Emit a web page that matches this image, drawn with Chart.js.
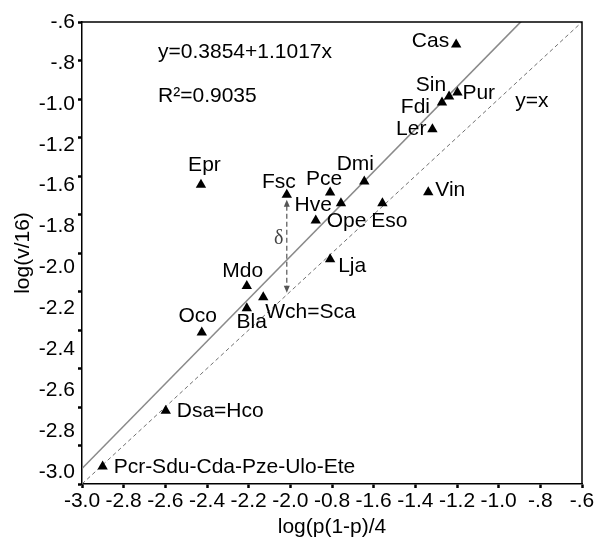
<!DOCTYPE html>
<html><head><meta charset="utf-8">
<script src="https://cdn.jsdelivr.net/npm/chart.js@4/dist/chart.umd.min.js"></script>
<style>html,body{margin:0;padding:0;background:#fff}</style>
</head><body>
<canvas id="c" width="597" height="545"></canvas>
<script>
// ---------- data ----------
const speciesNames = ['Cas','Sin','Pur','Fdi','Ler','Vin','Eso','Dmi','Hve','Pce','Ope','Fsc','Epr','Lja','Mdo','Wch=Sca','Bla','Oco','Dsa=Hco','Pcr-Sdu-Cda-Pze-Ulo-Ete'];
const xValues = [-1.204,-1.238,-1.198,-1.272,-1.318,-1.338,-1.558,-1.645,-1.757,-1.809,-1.878,-2.017,-2.429,-1.809,-2.209,-2.130,-2.209,-2.425,-2.598,-2.901];
const yValues = [-0.717,-0.987,-0.966,-1.018,-1.157,-1.484,-1.541,-1.429,-1.541,-1.486,-1.631,-1.498,-1.446,-1.832,-1.971,-2.030,-2.087,-2.213,-2.620,-2.909];
const xTickLabels = ['-3.0','-2.8','-2.6','-2.4','-2.2','-2.0','-0.8','-1.6','-1.4','-1.2','-1.0','-.8','-.6'];
const yTickLabels = ['-.6','-.8','-1.0','-1.2','-1.6','-1.8','-2.0','-2.2','-2.4','-2.6','-2.8','-3.0'];
const fitIntercept = 0.3854;
const fitSlope = 1.1017;
const axisMin = -3.0, axisMax = -0.6;

// ---------- label layout (style, not data) ----------
const FONT = "'Liberation Sans', Arial, sans-serif";
const labelLayout = {
  'Cas':['right',-7,-3], 'Sin':['right',-3,-11.5], 'Pur':['left',5,0.5], 'Fdi':['right',-12,4.5],
  'Ler':['right',-6,0], 'Vin':['left',7,-1.5], 'Eso':['center',7,18.5], 'Dmi':['center',-9,-17.5],
  'Hve':['right',-9,2.5], 'Pce':['center',-6,-13], 'Ope':['left',11,1], 'Fsc':['center',-8,-13],
  'Epr':['center',3.5,-20], 'Lja':['left',8,7], 'Mdo':['center',-4,-15], 'Wch=Sca':['left',2,14.5],
  'Bla':['center',5,14], 'Oco':['center',-4,-16], 'Dsa=Hco':['left',11,0], 'Pcr-Sdu-Cda-Pze-Ulo-Ete':['left',11,1]
};

const points = xValues.map((x,i)=>({x:x, y:yValues[i]}));
const fitLine = [axisMin, axisMax].map(x=>({x:x, y:fitIntercept + fitSlope*x}));
const identityLine = [axisMin, axisMax].map(x=>({x:x, y:x}));

const annotPlugin = {
  id:'annot',
  afterDatasetsDraw(chart){
    const ctx = chart.ctx, xs = chart.scales.x, ys = chart.scales.y, a = chart.chartArea;
    ctx.save();
    // top & right frame
    ctx.strokeStyle = '#000'; ctx.lineWidth = 1.5;
    ctx.beginPath(); ctx.moveTo(a.left, a.top); ctx.lineTo(a.right, a.top); ctx.lineTo(a.right, a.bottom); ctx.stroke();
    // species labels
    const meta = chart.getDatasetMeta(0);
    ctx.fillStyle = '#000'; ctx.font = '21px ' + FONT; ctx.textBaseline = 'middle';
    meta.data.forEach((pt,i)=>{
      const l = labelLayout[speciesNames[i]] || ['left',8,0];
      ctx.textAlign = l[0];
      ctx.fillText(speciesNames[i], pt.x + l[1], pt.y + l[2]);
    });
    // equation texts
    ctx.textAlign = 'left';
    ctx.fillText('y=0.3854+1.1017x', xs.getPixelForValue(-2.635), ys.getPixelForValue(-0.756));
    ctx.fillText('R\u00B2=0.9035', xs.getPixelForValue(-2.635), ys.getPixelForValue(-0.984));
    ctx.fillText('y=x', xs.getPixelForValue(-0.921), ys.getPixelForValue(-1.014));
    // delta arrow from Fsc to y=x
    const fi = speciesNames.indexOf('Fsc');
    const ax = xs.getPixelForValue(xValues[fi]);
    const y1 = ys.getPixelForValue(yValues[fi]) + 5;
    const y2 = ys.getPixelForValue(xValues[fi]) - 2;
    ctx.strokeStyle = '#555'; ctx.fillStyle = '#555'; ctx.lineWidth = 1.2;
    ctx.setLineDash([5,3]);
    ctx.beginPath(); ctx.moveTo(ax, y1+6); ctx.lineTo(ax, y2-6); ctx.stroke();
    ctx.setLineDash([]);
    ctx.beginPath(); ctx.moveTo(ax, y1); ctx.lineTo(ax-3, y1+7); ctx.lineTo(ax+3, y1+7); ctx.closePath(); ctx.fill();
    ctx.beginPath(); ctx.moveTo(ax, y2); ctx.lineTo(ax-3, y2-7); ctx.lineTo(ax+3, y2-7); ctx.closePath(); ctx.fill();
    ctx.fillStyle = '#444'; ctx.font = "20px 'Liberation Serif', 'Times New Roman', serif";
    ctx.textAlign = 'center';
    ctx.fillText('\u03B4', ax - 8, (y1 + y2)/2 - 8);
    ctx.restore();
  }
};

Chart.defaults.color = '#000';
Chart.defaults.font.family = FONT;

new Chart(document.getElementById('c'), {
  type:'scatter',
  data:{datasets:[
    {data:points, pointStyle:'triangle', pointRadius:6, pointHoverRadius:6, backgroundColor:'#000', borderColor:'#000', borderWidth:0, showLine:false, order:0},
    {type:'line', data:fitLine, borderColor:'#8a8a8a', borderWidth:1.6, pointRadius:0, fill:false, order:1},
    {type:'line', data:identityLine, borderColor:'#707070', borderWidth:1, borderDash:[4,3], pointRadius:0, fill:false, order:2}
  ]},
  options:{
    responsive:false, animation:false,
    plugins:{legend:{display:false}, tooltip:{enabled:false}},
    layout:{padding:{top:22, right:15, left:0, bottom:0}},
    scales:{
      x:{type:'linear', position:'bottom', min:axisMin, max:axisMax,
        ticks:{stepSize:0.2, autoSkip:false, maxRotation:0, padding:1, font:{size:21},
          callback:(v)=>xTickLabels[Math.round((v-axisMin)/0.2)]},
        grid:{drawOnChartArea:false, drawTicks:true, tickLength:4, tickWidth:2.5, color:'#000'},
        border:{color:'#000', width:1.5},
        title:{display:true, text:'log(p(1-p)/4', font:{size:21}, padding:{top:0, bottom:5}},
        afterFit(s){ s.height = 61; }
      },
      y:{type:'linear', position:'left', weight:0, min:axisMin, max:axisMax,
        ticks:{stepSize:0.2, callback:()=>''},
        grid:{drawOnChartArea:false, drawTicks:true, tickLength:4, tickWidth:2.5, color:'#000'},
        border:{color:'#000', width:1.5},
        afterFit(s){ s.width = 5; }
      },
      yl:{type:'linear', position:'left', weight:10, reverse:true, min:0, max:yTickLabels.length - 1 + 0.29,
        ticks:{stepSize:1, includeBounds:false, padding:2, font:{size:21}, callback:(v)=>yTickLabels[v]},
        grid:{display:false, drawTicks:false},
        border:{display:false},
        title:{display:true, text:'log(v/16)', font:{size:21}, padding:{top:11, bottom:0}},
        afterFit(s){ s.width = 77; }
      }
    }
  },
  plugins:[annotPlugin]
});
</script>
</body></html>
